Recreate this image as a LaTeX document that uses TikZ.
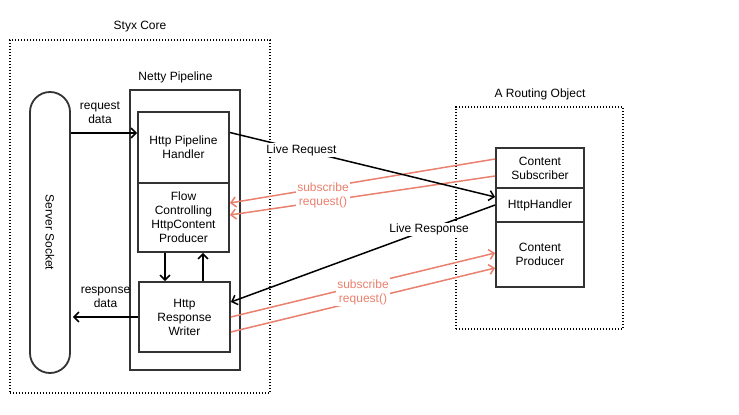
\documentclass[tikz,border=0pt]{standalone}
\usepackage{fontspec}
\setmainfont{Liberation Sans}
\usetikzlibrary{arrows.meta}
\definecolor{subcolor}{RGB}{234,128,110}
\definecolor{edgecolor}{RGB}{51,51,51}

\begin{document}
\begin{tikzpicture}[x=1pt, y=-1pt,
    box/.style={draw=edgecolor, line width=1.8pt, fill=white, minimum width=91pt, align=center, inner sep=0pt, font=\fontsize{12}{14}\selectfont},
    group/.style={draw, line width=1.2pt, dash pattern=on 1.4pt off 1.6pt, minimum width=0pt, minimum height=0pt},
    title/.style={font=\fontsize{12}{14}\selectfont},
    lbl/.style={fill=white, align=center, inner sep=1pt, font=\fontsize{12}{14}\selectfont},
    flow/.style={->, line width=1.5pt},
    sub/.style={->, line width=1.5pt, draw=subcolor},
    >={Straight Barb[length=5pt,width=10pt]}
  ]
  \useasboundingbox (0,0) rectangle (739,415);

  \node[group, minimum width=260pt, minimum height=353pt] (styx) at (140,216.5) {};
  \node[title] (styxtitle) at (140,26.5) {Styx Core};
  \node[group, minimum width=167pt, minimum height=222pt] (routing) at (539.5,218) {};
  \node[title] (routingtitle) at (540,94) {A Routing Object};

  \node[box, minimum width=110pt, minimum height=280pt] (netty) at (185,230) {};
  \node[title] (nettytitle) at (175.5,77) {Netty Pipeline};
  \node[box, rounded corners=20pt, minimum width=281pt, minimum height=40pt, rotate=-90] (socket) at (50,232.5) {Server Socket};

  \node[box, minimum height=71pt] (handler) at (183.5,147.5) {Http Pipeline\\Handler};
  \node[box, minimum height=69pt] (flow) at (183.5,217.5) {Flow\\Controlling\\HttpContent\\Producer};
  \node[box, minimum height=70pt] (writer) at (184.5,317) {Http\\Response\\Writer};

  \node[box, minimum width=88pt, minimum height=40pt] (subscriber) at (540,168) {Content\\Subscriber};
  \node[box, minimum width=88pt, minimum height=34pt] (httphandler) at (540,205) {HttpHandler};
  \node[box, minimum width=88pt, minimum height=65pt] (producer) at (540,254.5) {Content\\Producer};

  \draw[flow] (socket.north |- 0,133) -- (handler.west |- 0,133);
  \node[lbl, fill=none] (reqdata) at (100,112.5) {request\\data};
  \draw[flow] (writer.west) -- ([xshift=2pt]socket.north |- writer.west);
  \node[lbl, fill=none] (respdata) at (105.5,297.5) {response\\data};
  \draw[flow] (flow.south -| 165,0) -- (writer.north -| 165,0);
  \draw[flow] (writer.north -| 203,0) -- (flow.south -| 203,0);

  \draw[sub] ([yshift=9pt]subscriber.west) -- ([yshift=14.5pt]flow.east);
  \draw[sub] ([yshift=-8pt]subscriber.west) -- ([yshift=2.5pt]flow.east);
  \node[lbl, text=subcolor] (subleft) at (323,195) {subscribe\\request()};
  \draw[sub] (writer.east) -- ([yshift=1.5pt]producer.west);
  \draw[sub] ([yshift=-15pt]writer.east) -- ([yshift=-13.5pt]producer.west);
  \node[lbl, text=subcolor] (subright) at (363,292) {subscribe\\request()};

  \draw[flow] ([yshift=15pt]handler.east) -- node[lbl, pos=0.27] (livereq) {Live Request} ([yshift=8pt]httphandler.west);
  \draw[flow] (httphandler.west) -- node[lbl, pos=0.25] (liveresp) {Live Response} ([yshift=15pt]writer.east);
\end{tikzpicture}
\end{document}
